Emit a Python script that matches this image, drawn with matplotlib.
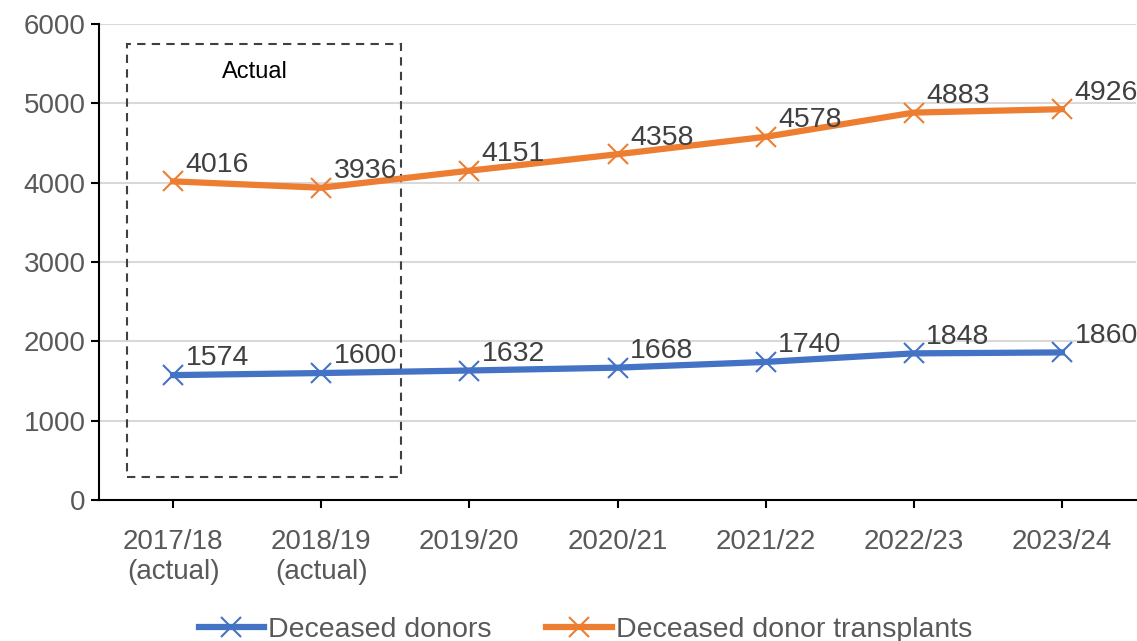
import matplotlib
matplotlib.use('Agg')
import matplotlib.pyplot as plt
from matplotlib.patches import Rectangle

years = ["2017/18\n(actual)", "2018/19\n(actual)", "2019/20", "2020/21",
         "2021/22", "2022/23", "2023/24"]
donors = [1574, 1600, 1632, 1668, 1740, 1848, 1860]
transplants = [4016, 3936, 4151, 4358, 4578, 4883, 4926]

blue = '#4472C4'
orange = '#ED7D31'

plt.rcParams['font.family'] = ['Liberation Sans', 'DejaVu Sans']

fig = plt.figure(figsize=(11.37, 6.41), dpi=100)
ax = fig.add_axes([0.0871, 0.22, 0.912, 0.7426])

x = list(range(len(years)))
ax.plot(x, donors, color=blue, lw=4.5, marker='x', ms=14, mew=1.5,
        label='Deceased donors', zorder=3)
ax.plot(x, transplants, color=orange, lw=4.5, marker='x', ms=14, mew=1.5,
        label='Deceased donor transplants', zorder=3)

for xi, v in zip(x, donors):
    ax.annotate(str(v), (xi, v), xytext=(9, 12), textcoords='offset points',
                ha='left', va='center', fontsize=20.5, color='#404040')
for xi, v in zip(x, transplants):
    ax.annotate(str(v), (xi, v), xytext=(9, 12), textcoords='offset points',
                ha='left', va='center', fontsize=20.5, color='#404040')

# dashed box around the actual years
ax.add_patch(Rectangle((-0.31, 290), 1.85, 5460, fill=False, ls=(0, (4, 3)),
                       lw=1.5, ec='#404040', zorder=2))
ax.text(0.55, 5400, 'Actual', ha='center', va='center', fontsize=17, color='black')

ax.set_xlim(-0.5, 6.5)
ax.set_ylim(0, 6000)
ax.set_yticks(range(0, 6001, 1000))
ax.set_xticks(x)
ax.set_xticklabels(years)
ax.yaxis.grid(True, color='#d9d9d9', lw=1.5)
ax.set_axisbelow(True)
for s in ['top', 'right']:
    ax.spines[s].set_visible(False)
ax.spines['left'].set_linewidth(1.5)
ax.spines['bottom'].set_linewidth(1.5)
ax.tick_params(axis='both', labelsize=20, labelcolor='#595959', width=1.5, length=6)
ax.tick_params(axis='x', pad=15)

ax.legend(loc='upper center', bbox_to_anchor=(0.469, -0.192), ncol=2, frameon=False,
          fontsize=20.5, labelcolor='#595959', handlelength=2.3, columnspacing=1.9,
          handletextpad=0.15)

fig.savefig('out.png', dpi=100)
